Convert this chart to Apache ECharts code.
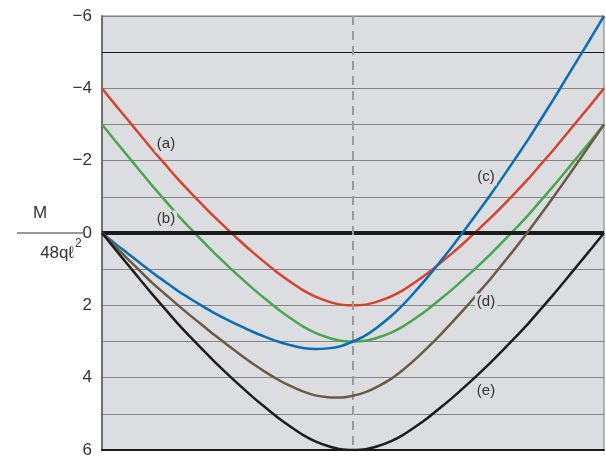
<!DOCTYPE html>
<html><head><meta charset="utf-8">
<script src="https://cdn.jsdelivr.net/npm/echarts@6/dist/echarts.min.js"></script>
<style>html,body{margin:0;padding:0;background:#fff}#c{width:606px;height:459px}</style>
</head><body><div id="c"></div>
<script>
// position along span (0..1), step 0.025
const span = [0,0.025,0.05,0.075,0.1,0.125,0.15,0.175,0.2,0.225,0.25,0.275,0.3,0.325,0.35,0.375,0.4,0.425,0.45,0.475,0.5,
  0.525,0.55,0.575,0.6,0.625,0.65,0.675,0.7,0.725,0.75,0.775,0.8,0.825,0.85,0.875,0.9,0.925,0.95,0.975,1];
// M / 48qℓ² values
const curveA = [-4,-3.57,-3.15,-2.73,-2.31,-1.91,-1.51,-1.14,-0.78,-0.43,-0.10,0.22,0.53,0.82,1.10,1.35,1.58,1.76,1.89,1.98,2.0,
  1.98,1.89,1.76,1.58,1.35,1.10,0.82,0.53,0.22,-0.10,-0.43,-0.78,-1.14,-1.51,-1.91,-2.31,-2.73,-3.15,-3.57,-4];
const curveB = [-3,-2.57,-2.15,-1.73,-1.31,-0.91,-0.51,-0.14,0.22,0.57,0.90,1.22,1.53,1.82,2.10,2.35,2.58,2.76,2.89,2.98,3.0,
  2.98,2.89,2.76,2.58,2.35,2.10,1.82,1.53,1.22,0.90,0.57,0.22,-0.14,-0.51,-0.91,-1.31,-1.73,-2.15,-2.57,-3];
const curveC = [0,0.28,0.55,0.82,1.09,1.34,1.59,1.81,2.02,2.22,2.40,2.57,2.73,2.87,3.0,3.10,3.18,3.21,3.19,3.13,3.0,
  2.83,2.59,2.31,1.98,1.60,1.20,0.77,0.33,-0.13,-0.60,-1.08,-1.58,-2.09,-2.61,-3.16,-3.71,-4.28,-4.85,-5.42,-6];
const curveD = [0,0.35,0.70,1.04,1.38,1.68,1.98,2.27,2.55,2.83,3.10,3.36,3.61,3.84,4.05,4.23,4.38,4.49,4.54,4.55,4.5,
  4.40,4.24,4.04,3.78,3.48,3.15,2.80,2.43,2.05,1.65,1.25,0.82,0.39,-0.06,-0.53,-1.01,-1.50,-2.00,-2.50,-3];
const curveE = [0,0.43,0.85,1.27,1.69,2.09,2.49,2.86,3.22,3.57,3.90,4.22,4.53,4.82,5.10,5.35,5.58,5.76,5.89,5.98,6,
  5.98,5.89,5.76,5.58,5.35,5.10,4.82,4.53,4.22,3.90,3.57,3.22,2.86,2.49,2.09,1.69,1.27,0.85,0.43,0];
const yTicks = [-6,-4,-2,0,2,4,6];
const curveLabels = ['(a)','(b)','(c)','(d)','(e)'];

const chart = echarts.init(document.getElementById('c'));
const pair = arr => span.map((t,i)=>[t,arr[i]]);
const colors = ['#d6432c','#48a64e','#0a6db3','#6b5a43','#1c1c1c'];
const curves = [curveA,curveB,curveC,curveD,curveE];
const series = curves.map((c,i)=>({
  type:'line', data:pair(c), smooth:0.3, symbol:'none', z:3+i,
  lineStyle:{color:colors[i], width:2.5}
}));
series.push({
  type:'line', data:[], z:10,
  markLine:{silent:true, symbol:'none', label:{show:false},
    data:[
      {yAxis:0, lineStyle:{color:'#1a1a1a', width:4, type:'solid'}},
      {yAxis:-5, lineStyle:{color:'#1a1a1a', width:1.2, type:'solid'}},
      {xAxis:0.5, lineStyle:{color:'#9a9a9a', width:2, type:[9,6]}}
    ]}
});
const labelFont = '15px "Liberation Sans", Arial, sans-serif';
const labelPos = [[166,144],[166,219],[486,177],[486,302],[486,391]];
const graphics = curveLabels.map((t,i)=>({
  type:'text', z:100,
  style:{text:t, x:labelPos[i][0], y:labelPos[i][1], textAlign:'center', textVerticalAlign:'middle',
    font:labelFont, fill:'#333', backgroundColor:'#dcdde0', padding:[1,2]}
}));
graphics.push(
  {type:'text', z:100, style:{text:'M', x:40, y:213, textAlign:'center', textVerticalAlign:'middle', font:'17px "Liberation Sans", Arial, sans-serif', fill:'#333'}},
  {type:'line', z:100, shape:{x1:17, y1:233, x2:83, y2:233}, style:{stroke:'#333', lineWidth:1}},
  {type:'text', z:100, style:{text:'48qℓ', x:74, y:253, textAlign:'right', textVerticalAlign:'middle', font:'17px "Liberation Sans", Arial, sans-serif', fill:'#333'}},
  {type:'text', z:100, style:{text:'2', x:75, y:244, textAlign:'left', textVerticalAlign:'middle', font:'12px "Liberation Sans", Arial, sans-serif', fill:'#333'}}
);
chart.setOption({
  animation:false,
  grid:{left:102, right:2, top:16, bottom:9, show:true, backgroundColor:'#dcdde0', borderColor:'#777', borderWidth:1},
  xAxis:{type:'value', min:0, max:1, show:true, axisLabel:{show:false}, axisTick:{show:false}, splitLine:{show:false},
    axisLine:{show:true, onZero:false, lineStyle:{color:'#1a1a1a', width:2}}},
  yAxis:{type:'value', min:-6, max:6, interval:1, inverse:true,
    axisLine:{show:true, lineStyle:{color:'#6e6e6e', width:2}},
    axisTick:{show:false},
    splitLine:{show:true, lineStyle:{color:'#858585', width:1}},
    axisLabel:{margin:10, color:'#333', fontSize:17, fontFamily:'"Liberation Sans", Arial, sans-serif',
      formatter:v=> yTicks.includes(v) ? String(v).replace('-','\u2212') : ''}},
  series:series,
  graphic:graphics
});
</script></body></html>
